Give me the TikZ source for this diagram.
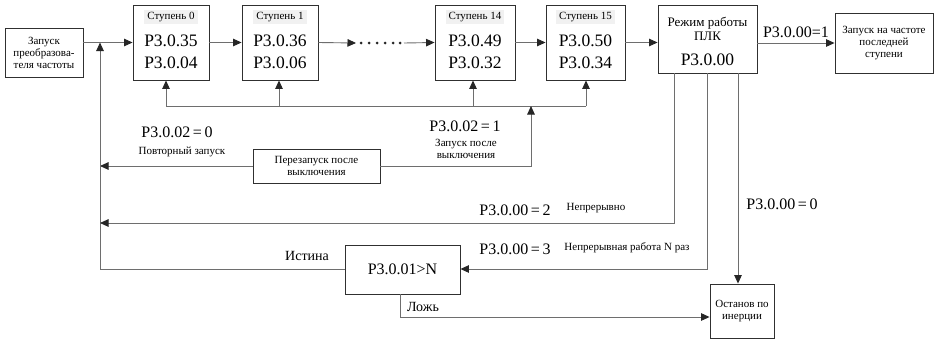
\documentclass[tikz,border=0pt]{standalone}
\usepackage{fontspec}
\setmainfont{Liberation Serif}
\usetikzlibrary{arrows.meta}
\definecolor{ln}{HTML}{6E6E6E}
\definecolor{bx}{HTML}{303030}
\definecolor{tbg}{HTML}{F1F1F1}
\tikzset{
 box/.style={draw=bx, line width=0.9pt, fill=white, inner sep=0pt, align=center},
 arr/.style={draw=ln, line width=0.9pt, -{Triangle[length=8.5pt,width=7.5pt,color=black!85]}},
 lnk/.style={draw=ln, line width=0.9pt},
 small/.style={font=\fontsize{11}{12}\selectfont, align=center, inner sep=0pt},
 medt/.style={font=\fontsize{13}{14}\selectfont, align=center, inner sep=0pt},
 big/.style={font=\fontsize{17.5}{18}\selectfont, inner sep=0pt},
 lab/.style={font=\fontsize{16}{17}\selectfont, inner sep=0pt},
 ttl/.style={small, fill=tbg, inner xsep=3pt, inner ysep=2.5pt},
}
\newcommand\stg[6]{%
 \node[box, minimum width=#3pt, minimum height=75pt] (#1) at (#2,42.5) {};
 \node[ttl] (#1t) at (#2,17) {#4};
 \node[big] (#1a) at (#2,41) {#5};
 \node[big] (#1b) at (#2,63) {#6};}
\begin{document}
\begin{tikzpicture}[x=1pt,y=-1pt]
\useasboundingbox[fill=white] (0,0) rectangle (935,340);
% boxes
\node[box, small, minimum width=78pt, minimum height=49pt] (st) at (44,52.5) {Запуск\\преобразова-\\теля частоты};
\stg{s0}{171}{76}{Ступень 0}{P3.0.35}{P3.0.04}
\stg{s1}{280}{76}{Ступень 1}{P3.0.36}{P3.0.06}
\stg{s14}{475}{80}{Ступень 14}{P3.0.49}{P3.0.32}
\stg{s15}{585.5}{79}{Ступень 15}{P3.0.50}{P3.0.34}
\node[box, minimum width=99pt, minimum height=68pt] (plc) at (707.5,39) {};
\node[medt] (plct) at (707.5,29) {Режим работы\\ПЛК};
\node[big] (plcc) at (707.5,60) {P3.0.00};
\node[box, small, minimum width=98pt, minimum height=60pt] (last) at (884,43) {Запуск на частоте\\последней\\ступени};
\node[box, small, minimum width=127pt, minimum height=34pt] (rs) at (316.5,166) {Перезапуск после\\выключения};
\node[box, lab, minimum width=115pt, minimum height=49pt] (cond) at (402.5,269.5) {P3.0.01>N};
\node[box, small, minimum width=64pt, minimum height=54pt] (stop) at (742,311) {Останов по\\инерции};
% coordinates
\coordinate (L) at (100,0);
\coordinate (b0) at (166,106);
\coordinate (b1) at (279,106);
\coordinate (b14) at (473,106);
\coordinate (b15) at (586,106);
\coordinate (r) at (531,0);
\coordinate (p2) at (674,223);
\coordinate (p3) at (707,269);
\coordinate (p0) at (738,0);
\coordinate (f1) at (400,317);
\coordinate (d1) at (356,43);
\coordinate (d2) at (404,43);
% top chain
\draw[arr] (st.east |- s0.west) -- (s0.west);
\draw[arr] (s0.east) -- (s1.west);
\draw[arr] (s1.east) -- (d1);
\foreach \x in {361,369,377,385,393,400} \fill[black!85] (\x,43) circle (1.5pt);
\draw[arr] (d2) -- (s14.west);
\draw[arr] (s14.east) -- (s15.west);
\draw[arr] (s15.east) -- (plc.west |- s15.east);
\draw[arr] (plc.east |- last.west) -- (last.west);
\node[lab, anchor=south] (l1) at (796,38) {P3.0.00=1};
% bus
\draw[lnk] (b0) -- (b15);
\draw[arr] (b0) -- (b0 |- s0.south);
\draw[arr] (b1) -- (b1 |- s1.south);
\draw[arr] (b14) -- (b14 |- s14.south);
\draw[arr] (b15) -- (b15 |- s15.south);
% restart
\draw[arr] (rs.east) -- (r |- rs.east) -- (r |- b0);
\draw[arr] (rs.west) -- (L |- rs.west);
\node[lab] (l20) at (177,132) {P3.0.02\,=\,0};
\node[small] (l20t) at (182,152) {Повторный запуск};
\node[lab] (l21) at (465,126) {P3.0.02\,=\,1};
\node[small] (l21t) at (466,149) {Запуск после\\выключения};
% left return line
\draw[arr] (cond.west) -- (L |- cond.west) -- (L |- s0.west);
% PLC outputs
\draw[arr] (p2 |- plc.south) -- (p2) -- (L |- p2);
\node[lab] (l02) at (515,210) {P3.0.00\,=\,2};
\node[small] (l02t) at (596,208) {Непрерывно};
\draw[arr] (p3 |- plc.south) -- (p3) -- (cond.east |- p3);
\node[lab] (l03) at (515,249) {P3.0.00\,=\,3};
\node[small] (l03t) at (627,248) {Непрерывная работа N раз};
\draw[arr] (p0 |- plc.south) -- (p0 |- stop.north);
\node[lab] (l00) at (782,204) {P3.0.00\,=\,0};
% condition outputs
\node[medt, font=\fontsize{14}{15}\selectfont] (tr) at (307,256) {Истина};
\draw[arr] (f1 |- cond.south) -- (f1) -- (f1 -| stop.west);
\node[medt, font=\fontsize{14}{15}\selectfont] (fa) at (423,307) {Ложь};
\end{tikzpicture}
\end{document}
